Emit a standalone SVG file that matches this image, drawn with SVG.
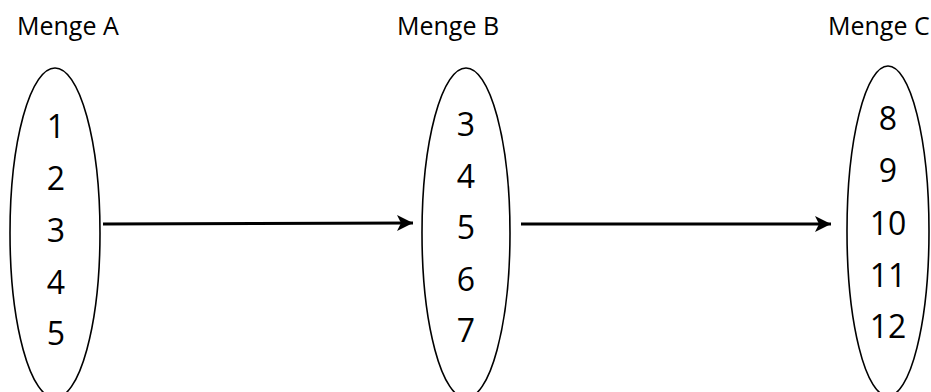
<svg xmlns="http://www.w3.org/2000/svg" width="931" height="392" viewBox="0 0 931 392">
<defs>
<style>
.title{font-family:"Open Sans","Liberation Sans",sans-serif;font-size:25px;fill:#000}
.num{font-family:"Open Sans","Liberation Sans",sans-serif;font-size:32px;fill:#000;text-anchor:middle}
.set{fill:none;stroke:#000;stroke-width:1.6}
.conn{stroke:#000;stroke-width:3;fill:none}
</style>
<marker id="arr" markerUnits="userSpaceOnUse" markerWidth="18" markerHeight="18" refX="16" refY="8" orient="auto">
<path d="M0,0 L16,8 L0,16 L4,8 Z" fill="#000"/>
</marker>
</defs>
<rect width="931" height="392" fill="#fff"/>
<g id="setA">
<text class="title" x="17" y="35">Menge A</text>
<ellipse class="set" cx="55" cy="233" rx="45" ry="165"/>
<text class="num" x="56" y="138">1</text>
<text class="num" x="56" y="190">2</text>
<text class="num" x="56" y="242">3</text>
<text class="num" x="56" y="294">4</text>
<text class="num" x="56" y="345">5</text>
</g>
<g id="setB">
<text class="title" x="397" y="35">Menge B</text>
<ellipse class="set" cx="466" cy="233" rx="44" ry="165"/>
<text class="num" x="466" y="136">3</text>
<text class="num" x="466" y="188">4</text>
<text class="num" x="466" y="239">5</text>
<text class="num" x="466" y="291">6</text>
<text class="num" x="466" y="342">7</text>
</g>
<g id="setC">
<text class="title" x="828" y="35">Menge C</text>
<ellipse class="set" cx="888" cy="231" rx="41" ry="165"/>
<text class="num" x="888" y="130">8</text>
<text class="num" x="888" y="182">9</text>
<text class="num" x="888" y="235">10</text>
<text class="num" x="888" y="287">11</text>
<text class="num" x="888" y="338">12</text>
</g>
<g id="connectors">
<line class="conn" x1="103" y1="224" x2="413" y2="223" marker-end="url(#arr)"/>
<line class="conn" x1="521" y1="224" x2="831" y2="224" marker-end="url(#arr)"/>
</g>
</svg>
